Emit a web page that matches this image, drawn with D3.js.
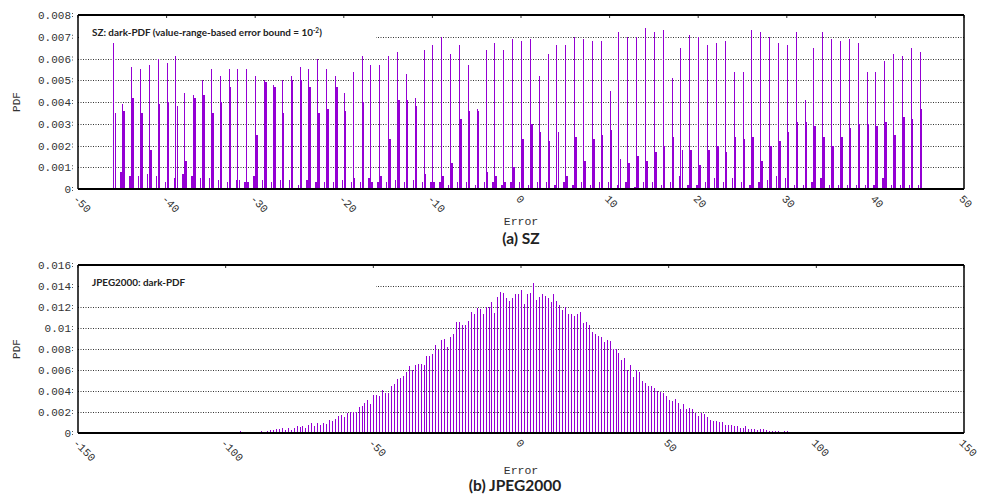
<!DOCTYPE html>
<html>
<head>
<meta charset="utf-8">
<script src="https://cdn.jsdelivr.net/npm/d3@7"></script>
<style>
  body { margin: 0; background: #fff; }
  svg { display: block; }
  .mono { font-family: "Liberation Mono", "DejaVu Sans Mono", monospace; fill: #333; }
  .sans { font-family: Lato, "Open Sans", sans-serif; font-weight: 700; fill: #222; }
</style>
</head>
<body>
<svg id="chart" width="982" height="496"></svg>
<script>
// ---------- (a) SZ : one spike cluster per integer error ----------
const szErrors = d3.range(-46, 46);
// tall thin spike of each cluster
const szPeak = [
  0.0067, 0.0039, 0.0056, 0.0055, 0.0057, 0.0060, 0.0058, 0.0061, 0.0044, 0.0043,
  0.0050, 0.0055, 0.0052, 0.0055, 0.0055, 0.0055, 0.0052, 0.0050, 0.0048, 0.0050,
  0.0052, 0.0056, 0.0055, 0.0060, 0.0055, 0.0052, 0.0044, 0.0054, 0.0061, 0.0057,
  0.0057, 0.0061, 0.0063, 0.0053, 0.0042, 0.0064, 0.0066, 0.0070, 0.0062, 0.0066,
  0.0057, 0.0037, 0.0064, 0.0067, 0.0064, 0.0069, 0.0068, 0.0069, 0.0052, 0.0062,
  0.0066, 0.0066, 0.0070, 0.0069, 0.0068, 0.0068, 0.0045, 0.0072, 0.0070, 0.0070,
  0.0074, 0.0072, 0.0073, 0.0051, 0.0065, 0.0071, 0.0070, 0.0066, 0.0067, 0.0068,
  0.0054, 0.0054, 0.0073, 0.0072, 0.0070, 0.0067, 0.0066, 0.0072, 0.0041, 0.0065,
  0.0072, 0.0069, 0.0068, 0.0069, 0.0067, 0.0054, 0.0054, 0.0059, 0.0062, 0.0061,
  0.0065, 0.0063
];
// wider bar just right of the spike
const szSecond = [
  0.0035, 0.0036, 0.0042, 0.0035, 0.0018, 0.0039, 0.0040, 0.0038, 0.0013, 0.0042,
  0.0043, 0.0035, 0.0040, 0.0047, 0.0004, 0.0003, 0.0025, 0.0049, 0.0047, 0.0035,
  0.0050, 0.0050, 0.0047, 0.0035, 0.0037, 0.0047, 0.0036, 0.0005, 0.0040, 0.0003,
  0.0006, 0.0023, 0.0041, 0.0041, 0.0038, 0.0007, 0.0003, 0.0006, 0.0012, 0.0032,
  0.0036, 0.0036, 0.0008, 0.0006, 0.0003, 0.0010, 0.0023, 0.0030, 0.0026, 0.0022,
  0.0026, 0.0006, 0.0024, 0.0013, 0.0023, 0.0025, 0.0027, 0.0014, 0.0012, 0.0015,
  0.0013, 0.0017, 0.0020, 0.0024, 0.0018, 0.0018, 0.0011, 0.0018, 0.0020, 0.0017,
  0.0024, 0.0023, 0.0024, 0.0013, 0.0020, 0.0022, 0.0026, 0.0031, 0.0031, 0.0029,
  0.0024, 0.0020, 0.0024, 0.0028, 0.0030, 0.0030, 0.0029, 0.0031, 0.0025, 0.0033,
  0.0032, 0.0037
];
// small bar left of the spike
const szLow = [
  0.0000, 0.0008, 0.0006, 0.0006, 0.0007, 0.0006, 0.0003, 0.0005, 0.0007, 0.0006,
  0.0005, 0.0005, 0.0004, 0.0003, 0.0004, 0.0003, 0.0006, 0.0004, 0.0003, 0.0004,
  0.0004, 0.0002, 0.0004, 0.0003, 0.0003, 0.0003, 0.0004, 0.0003, 0.0003, 0.0005,
  0.0003, 0.0003, 0.0004, 0.0003, 0.0004, 0.0003, 0.0003, 0.0003, 0.0002, 0.0003,
  0.0003, 0.0002, 0.0003, 0.0003, 0.0002, 0.0003, 0.0003, 0.0002, 0.0003, 0.0003,
  0.0002, 0.0003, 0.0002, 0.0003, 0.0002, 0.0003, 0.0003, 0.0002, 0.0003, 0.0001,
  0.0003, 0.0003, 0.0002, 0.0003, 0.0006, 0.0002, 0.0002, 0.0003, 0.0005, 0.0003,
  0.0005, 0.0003, 0.0002, 0.0003, 0.0004, 0.0006, 0.0005, 0.0002, 0.0002, 0.0003,
  0.0005, 0.0002, 0.0002, 0.0002, 0.0002, 0.0002, 0.0002, 0.0005, 0.0002, 0.0002,
  0.0002, 0.0002
];
const szXTicks = [-50, -40, -30, -20, -10, 0, 10, 20, 30, 40, 50];
const szYTicks = [0, 0.001, 0.002, 0.003, 0.004, 0.005, 0.006, 0.007, 0.008];
const szYLabels = ["0", "0.001", "0.002", "0.003", "0.004", "0.005", "0.006", "0.007", "0.008"];

// ---------- (b) JPEG2000 : one bar per integer error ----------
const jpErrors = d3.range(-105, 104);
const jpPdf = [
  0, 0, 0.00007, 0, 0.00007, 0, 0, 0.00007, 0.00007, 0,
  0.00016, 0.00007, 0.00007, 0, 0, 0.00007, 0.00007, 0.00016, 0.00007, 0.00016,
  0.00026, 0.00033, 0.00036, 0.00036, 0.00046, 0.00033, 0.00043, 0.00026, 0.0005, 0.00066,
  0.0006, 0.00066, 0.00046, 0.00075, 0.00092, 0.00066, 0.00095, 0.0008, 0.00095, 0.00089,
  0.00125, 0.00114, 0.00133, 0.00162, 0.0017, 0.0015, 0.0019, 0.002, 0.002, 0.002,
  0.00248, 0.00257, 0.00286, 0.00314, 0.00276, 0.00362, 0.00362, 0.00352, 0.0041, 0.0038,
  0.0038, 0.00448, 0.00467, 0.00514, 0.00524, 0.0054, 0.00578, 0.00635, 0.00603, 0.0065,
  0.0066, 0.0066, 0.0065, 0.0073, 0.0073, 0.00755, 0.00834, 0.0079, 0.0089, 0.009,
  0.0082, 0.0091, 0.0094, 0.0106, 0.0106, 0.0103, 0.0103, 0.0107, 0.01156, 0.0113,
  0.0119, 0.0118, 0.0113, 0.0120, 0.0120, 0.0125, 0.01147, 0.01298, 0.01346, 0.01333,
  0.0129, 0.0126, 0.0129, 0.0132, 0.01327, 0.01365, 0.01232, 0.01327, 0.01336, 0.01431,
  0.0127, 0.01298, 0.01327, 0.01308, 0.0129, 0.0125, 0.0132, 0.0126, 0.01223, 0.0117,
  0.0120, 0.0113, 0.0113, 0.0111, 0.0113, 0.0115, 0.0105, 0.0106, 0.0103, 0.0096,
  0.0094, 0.0092, 0.0091, 0.0087, 0.0089, 0.0088, 0.0080, 0.0080, 0.0076, 0.0070,
  0.0071, 0.0060, 0.0065, 0.0053, 0.0060, 0.0058, 0.0050, 0.0048, 0.0045, 0.0045,
  0.0043, 0.004, 0.0039, 0.0038, 0.0035, 0.0031, 0.00305, 0.00324, 0.00286, 0.00229,
  0.00276, 0.00229, 0.0024, 0.00229, 0.0019, 0.00165, 0.0019, 0.0018, 0.0015, 0.00124,
  0.00114, 0.00114, 0.00105, 0.00105, 0.0008, 0.0008, 0.0008, 0.0007, 0.00067, 0.0005,
  0.0005, 0.00067, 0.0004, 0.00038, 0.00038, 0.00029, 0.00036, 0.00036, 0.00026, 0.00016,
  0.00016, 0.00016, 0.00016, 0.00007, 0.00016, 0.00016, 0.00007, 0, 0.00007, 0,
  0.00007, 0, 0, 0, 0, 0, 0, 0.00007, 0.00007
];
const jpXTicks = [-150, -100, -50, 0, 50, 100, 150];
const jpYTicks = [0, 0.002, 0.004, 0.006, 0.008, 0.01, 0.012, 0.014, 0.016];
const jpYLabels = ["0", "0.002", "0.004", "0.006", "0.008", "0.01", "0.012", "0.014", "0.016"];

const svg = d3.select("#chart");
const purple = "#9400d3";
const left = 78, right = 964;

// bar height in px, at least one pixel for any non-zero value
const barH = (y, v) => v > 0 ? Math.max(1, y(0) - y(v)) : 0;

// draws frame, grid, ticks, labels of one panel; returns its scales
function panel(cfg) {
  const x = d3.scaleLinear().domain(cfg.xDomain).range([left, right]);
  const y = d3.scaleLinear().domain(cfg.yDomain).range([cfg.bottom, cfg.top]);
  const g = svg.append("g");

  // dotted horizontal grid
  g.selectAll(".grid").data(cfg.yTicks.slice(1, -1)).join("line")
    .attr("x1", left).attr("x2", right)
    .attr("y1", d => Math.round(y(d)) + 0.5).attr("y2", d => Math.round(y(d)) + 0.5)
    .attr("stroke", "#333").attr("stroke-width", 1).attr("stroke-dasharray", "1,1.5");

  // white key area hides the top grid line on the left
  const keyLine = Math.round(y(cfg.yTicks[cfg.yTicks.length - 2]));
  g.append("rect")
    .attr("x", left + 1).attr("y", cfg.top + 1)
    .attr("width", 376 - left - 1).attr("height", keyLine - cfg.top + 1)
    .attr("fill", "#fff");

  g.append("text").attr("class", "sans")
    .attr("x", 92).attr("y", cfg.top + 21)
    .attr("font-size", 9.9)
    .call(cfg.keyText);

  // y labels + colon-like ticks
  g.selectAll(".ylab").data(cfg.yTicks).join("text")
    .attr("class", "mono").attr("font-size", 11)
    .attr("text-anchor", "end")
    .attr("x", 71).attr("y", d => y(d) + 4)
    .text((d, i) => cfg.yLabels[i]);
  g.selectAll(".ytk").data(cfg.yTicks).join("line")
    .attr("x1", 72.5).attr("x2", 72.5)
    .attr("y1", d => y(d) - 2).attr("y2", d => y(d) + 3)
    .attr("stroke", "#555").attr("stroke-dasharray", "1,2");

  // x labels, rotated
  g.selectAll(".xlab").data(cfg.xTicks).join("text")
    .attr("class", "mono").attr("font-size", 11)
    .attr("transform", d => `translate(${x(d)},${cfg.bottom + 5}) rotate(45)`)
    .attr("dy", "0.7em")
    .text(d => String(d));
  g.selectAll(".xtk").data(cfg.xTicks).join("line")
    .attr("x1", d => x(d)).attr("x2", d => x(d))
    .attr("y1", cfg.top).attr("y2", cfg.top + 3)
    .attr("stroke", "#333");

  g.append("text").attr("class", "mono").attr("font-size", 11.5)
    .attr("text-anchor", "middle").attr("x", 521).attr("y", cfg.bottom + cfg.errorDy)
    .text("Error");
  g.append("text").attr("class", "mono").attr("font-size", 11)
    .attr("text-anchor", "middle")
    .attr("transform", `translate(20,${(cfg.top + cfg.bottom) / 2}) rotate(-90)`)
    .text("PDF");
  g.append("text").attr("class", "sans").attr("font-size", 15.5)
    .attr("text-anchor", "middle").attr("x", cfg.captionX).attr("y", cfg.bottom + cfg.captionDy)
    .text(cfg.caption);

  const bars = svg.append("g").attr("shape-rendering", "crispEdges").attr("fill", purple);

  // frame drawn last
  const frame = svg.append("g").attr("stroke", "#000").attr("fill", "none");
  frame.append("line").attr("x1", left).attr("x2", right).attr("y1", cfg.top).attr("y2", cfg.top).attr("stroke-width", 2);
  frame.append("line").attr("x1", left).attr("x2", right).attr("y1", cfg.bottom).attr("y2", cfg.bottom).attr("stroke-width", 2);
  frame.append("line").attr("x1", left).attr("x2", left).attr("y1", cfg.top).attr("y2", cfg.bottom).attr("stroke-width", 1.5);
  frame.append("line").attr("x1", right).attr("x2", right).attr("y1", cfg.top).attr("y2", cfg.bottom).attr("stroke-width", 1.5);

  return { x, y, bars };
}

// ---- panel (a)
const a = panel({
  xDomain: [-50, 50], yDomain: [0, 0.008], top: 15, bottom: 189,
  yTicks: szYTicks, yLabels: szYLabels, xTicks: szXTicks,
  caption: "(a) SZ", captionX: 521, errorDy: 36, captionDy: 55,
  keyText: t => {
    t.append("tspan").text("SZ: dark-PDF (value-range-based error bound = 10");
    t.append("tspan").attr("dy", -3.5).attr("font-size", 6.5).text("-2");
    t.append("tspan").attr("dy", 3.5).text(")");
  }
});
const szParts = [
  { vals: szLow, from: -0.22, to: -0.07 },
  { vals: szPeak, from: 0.0, to: 0.1 },
  { vals: szSecond, from: 0.12, to: 0.3 }
];
szParts.forEach(p => {
  a.bars.selectAll(null).data(szErrors).join("rect")
    .attr("x", d => Math.round(a.x(d + p.from)))
    .attr("width", d => Math.max(1, Math.round(a.x(d + p.to)) - Math.round(a.x(d + p.from))))
    .attr("y", (d, i) => a.y(0) - barH(a.y, p.vals[i]))
    .attr("height", (d, i) => barH(a.y, p.vals[i]));
});

// ---- panel (b)
const b = panel({
  xDomain: [-150, 150], yDomain: [0, 0.016], top: 265, bottom: 433,
  yTicks: jpYTicks, yLabels: jpYLabels, xTicks: jpXTicks,
  caption: "(b) JPEG2000", captionX: 515, errorDy: 41, captionDy: 58,
  keyText: t => t.text("JPEG2000: dark-PDF")
});
b.bars.selectAll(null).data(jpErrors).join("rect")
  .attr("x", d => Math.round(b.x(d)))
  .attr("width", 1)
  .attr("y", (d, i) => b.y(0) - barH(b.y, jpPdf[i]))
  .attr("height", (d, i) => barH(b.y, jpPdf[i]));
</script>
</body>
</html>
